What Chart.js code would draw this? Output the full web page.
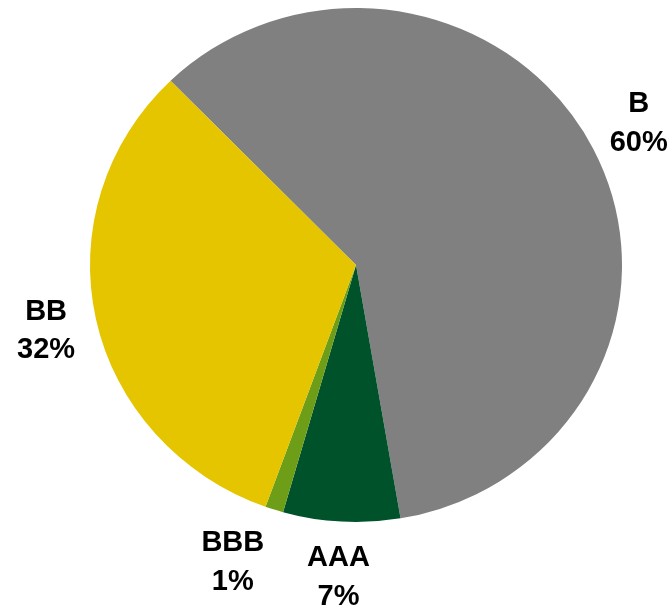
<!DOCTYPE html>
<html>
<head>
<meta charset="utf-8">
<script src="https://cdn.jsdelivr.net/npm/chart.js@4"></script>
<style>
html,body{margin:0;padding:0;background:#fff;}
#wrap{width:671px;height:610px;}
</style>
</head>
<body>
<div id="wrap"><canvas id="c" width="671" height="610"></canvas></div>
<script>
const categories = ['B', 'AAA', 'BBB', 'BB'];
const values = [59.6, 7.1, 1.1, 32.2];
const colors = ['#808080', '#00522B', '#6E9E17', '#E5C400'];

const ELLIPSE_X = 266 / 257;
const LABEL_GAP = 22;
const LINE_H = 38.5;
const FONT_PX = 29;
const FONT = 'bold ' + FONT_PX + 'px "Liberation Sans", Arial, sans-serif';
const labelNudge = [[0,0],[0,0],[-25,0],[0,0]];

const ellipsePlugin = {
  id: 'ellipse',
  beforeDatasetsDraw(chart) {
    const a = chart.getDatasetMeta(0).data[0];
    const ctx = chart.ctx;
    ctx.save();
    ctx.translate(a.x, a.y);
    ctx.scale(ELLIPSE_X, 1);
    ctx.translate(-a.x, -a.y);
  },
  afterDatasetsDraw(chart) {
    chart.ctx.restore();
  }
};

const labelPlugin = {
  id: 'labels',
  afterDraw(chart) {
    const ctx = chart.ctx;
    const meta = chart.getDatasetMeta(0);
    const total = values.reduce((s, v) => s + v, 0);
    ctx.save();
    ctx.font = FONT;
    ctx.fillStyle = '#000';
    ctx.textAlign = 'center';
    ctx.textBaseline = 'middle';
    meta.data.forEach((arc, i) => {
      const mid = (arc.startAngle + arc.endAngle) / 2;
      const dx = Math.cos(mid), dy = Math.sin(mid);
      const ex = arc.x + arc.outerRadius * ELLIPSE_X * dx;
      const ey = arc.y + arc.outerRadius * dy;
      const l1 = categories[i];
      const l2 = Math.round(values[i] / total * 100) + '%';
      const w = Math.max(ctx.measureText(l1).width, ctx.measureText(l2).width);
      const h = LINE_H + FONT_PX;
      const cx = ex + dx * LABEL_GAP + dx * w / 2 + labelNudge[i][0];
      const cy = ey + dy * LABEL_GAP + dy * h / 2 + labelNudge[i][1];
      ctx.fillText(l1, cx, cy - LINE_H / 2);
      ctx.fillText(l2, cx, cy + LINE_H / 2);
    });
    ctx.restore();
  }
};

new Chart(document.getElementById('c'), {
  type: 'pie',
  data: {
    labels: categories,
    datasets: [{
      data: values,
      backgroundColor: colors,
      borderWidth: 0,
      hoverOffset: 0
    }]
  },
  options: {
    responsive: false,
    animation: false,
    rotation: -44.2,
    layout: { padding: { left: 99, right: 58, top: 8, bottom: 88 } },
    plugins: {
      legend: { display: false },
      tooltip: { enabled: false }
    }
  },
  plugins: [ellipsePlugin, labelPlugin]
});
</script>
</body>
</html>
